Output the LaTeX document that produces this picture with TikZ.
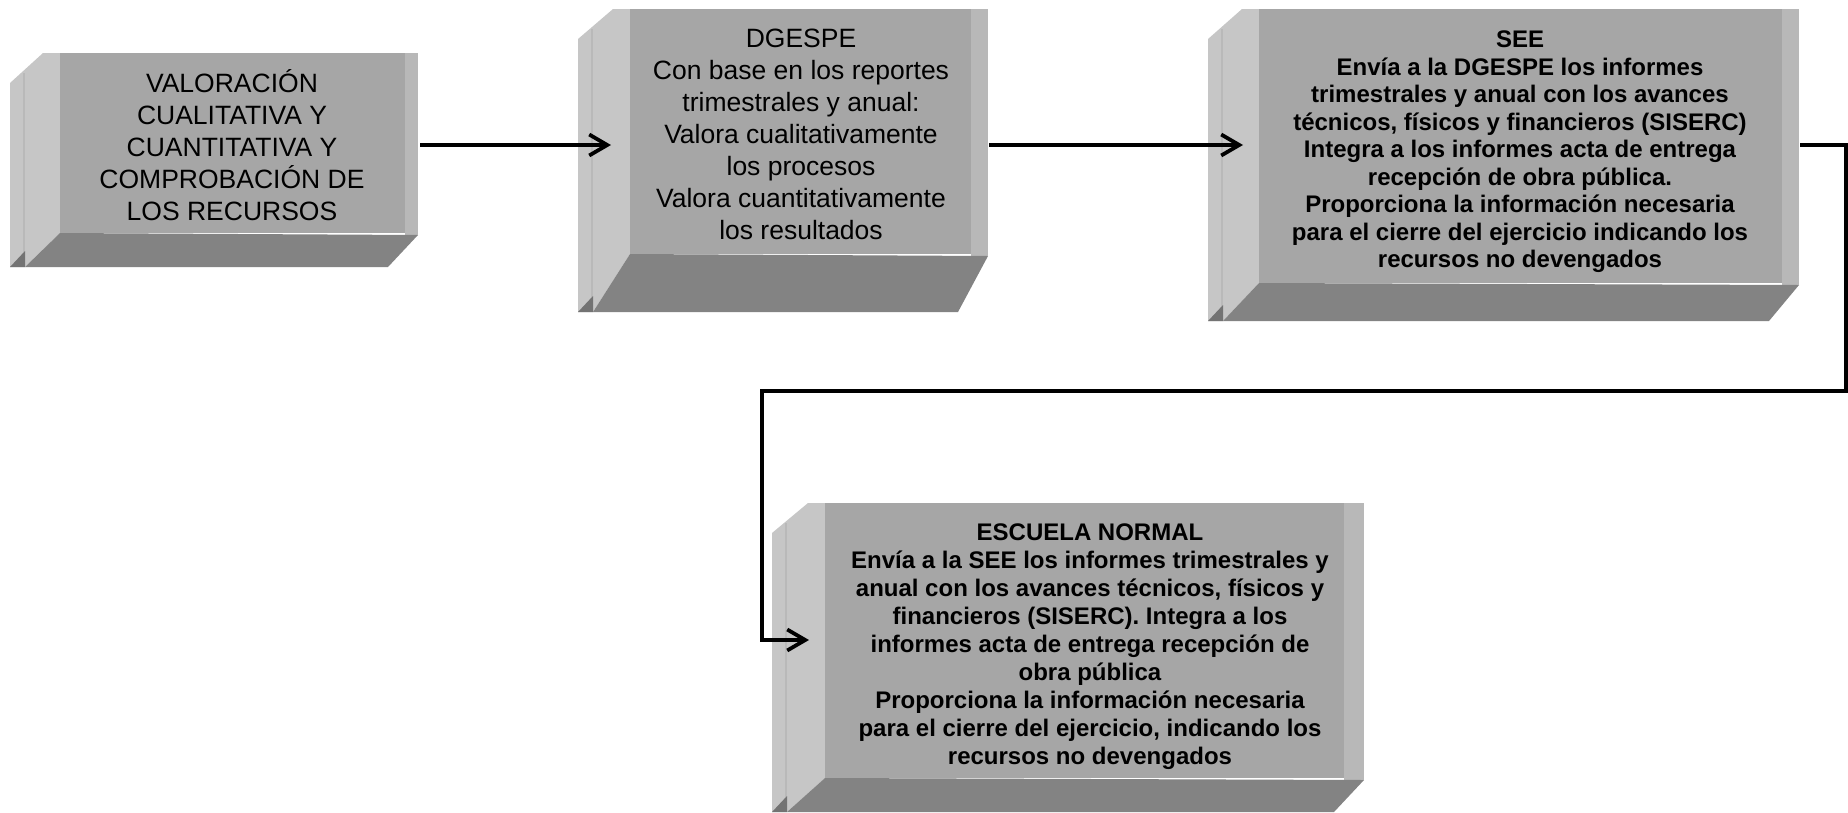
\documentclass[tikz,border=0pt]{standalone}
\usepackage{fontspec}
\setmainfont{Liberation Sans}
\usetikzlibrary{arrows.meta}
\definecolor{frontc}{HTML}{A6A6A6}
\definecolor{leftc}{HTML}{C6C6C6}
\definecolor{botc}{HTML}{838383}
\definecolor{notchc}{HTML}{737373}
\definecolor{stripc}{HTML}{B8B8B8}
\definecolor{linec}{HTML}{B9B9B9}
% L T R B s dx dy
\newcommand\threedbox[7]{%
  \fill[leftc] (#1,#2) -- ({#1-17},#2) -- ({#1-#6},{#2+30}) -- ({#1-#6},{#4+#7}) -- ({#1-#6+15},{#4+#7}) -- (#1,#4) -- cycle;
  \draw[linec, line width=1.2pt] ({#1-#6+14},{#2+20}) -- ({#1-#6+14},{#4+#7-15});
  \fill[stripc] (#3,#2) -- ({#3+#5},#2) -- ({#3+#5},{#4+2}) -- (#3,{#4+2}) -- cycle;
  \fill[botc] (#1,#4) -- ({#3+#5},{#4+2}) -- ({#3+#5-30},{#4+#7}) -- ({#1-#6+15},{#4+#7}) -- cycle;
  \fill[notchc] ({#1-#6},{#4+#7}) -- ({#1-#6+15},{#4+#7-16}) -- ({#1-#6+15},{#4+#7}) -- cycle;
}
\tikzset{
  face/.style={fill=frontc, draw=none, inner sep=0pt, anchor=north west},
  txtreg/.style={align=center, text=black, inner sep=0pt, font=\fontsize{26.5}{32}\selectfont},
  txtbold/.style={align=center, text=black, inner sep=0pt, font=\bfseries\fontsize{24}{27.5}\selectfont},
  conn/.style={line width=3.3pt, -{Straight Barb[length=18pt,width=21pt,line width=3.8pt]}},
}
\begin{document}
\begin{tikzpicture}[x=1pt,y=-1pt]
\useasboundingbox (0,0) rectangle (1848,812);
% box 1
\threedbox{60}{53}{405}{233}{13}{50}{34}
\node[face, minimum width=345pt, minimum height=180pt] (b1) at (60,53) {};
\node[txtreg] (t1) at (232,145) {VALORACIÓN\\CUALITATIVA Y\\CUANTITATIVA Y\\COMPROBACIÓN DE\\LOS RECURSOS};
% box 2
\threedbox{630}{9}{971}{254}{17}{52}{58}
\node[face, minimum width=341pt, minimum height=245pt] (b2) at (630,9) {};
\node[txtreg] (t2) at (801,134) {DGESPE\\Con base en los reportes\\trimestrales y anual:\\Valora cualitativamente\\los procesos\\Valora cuantitativamente\\los resultados};
% box 3
\threedbox{1259}{9}{1782}{283}{17}{51}{38}
\node[face, minimum width=523pt, minimum height=274pt] (b3) at (1259,9) {};
\node[txtbold] (t3) at (1520,152) {SEE\\Envía a la DGESPE los informes\\trimestrales y anual con los avances\\técnicos, físicos y financieros (SISERC)\\Integra a los informes acta de entrega\\recepción de obra pública.\\Proporciona la información necesaria\\para el cierre del ejercicio indicando los\\recursos no devengados};
% box 4
\threedbox{825}{503}{1344}{778}{20}{53}{34}
\node[face, minimum width=519pt, minimum height=275pt] (b4) at (825,503) {};
\node[txtbold, font=\bfseries\fontsize{24}{28}\selectfont] (t4) at (1090,647) {ESCUELA NORMAL\\Envía a la SEE los informes trimestrales y\\anual con los avances técnicos, físicos y\\financieros (SISERC). Integra a los\\informes acta de entrega recepción de\\obra pública\\Proporciona la información necesaria\\para el cierre del ejercicio, indicando los\\recursos no devengados};
% connectors
\coordinate (s1) at (420,145);
\coordinate (e2) at (611,145);
\coordinate (s2) at (989,145);
\coordinate (e3) at (1243,145);
\coordinate (s3) at (1800,145);
\coordinate (k1) at (1846,391);
\coordinate (k2) at (762,640);
\coordinate (e4) at (809,640);
\draw[conn] (s1) -- (e2);
\draw[conn] (s2) -- (e3);
\draw[conn] (s3) -| (k1) -| (k2) -- (e4);
\end{tikzpicture}
\end{document}
